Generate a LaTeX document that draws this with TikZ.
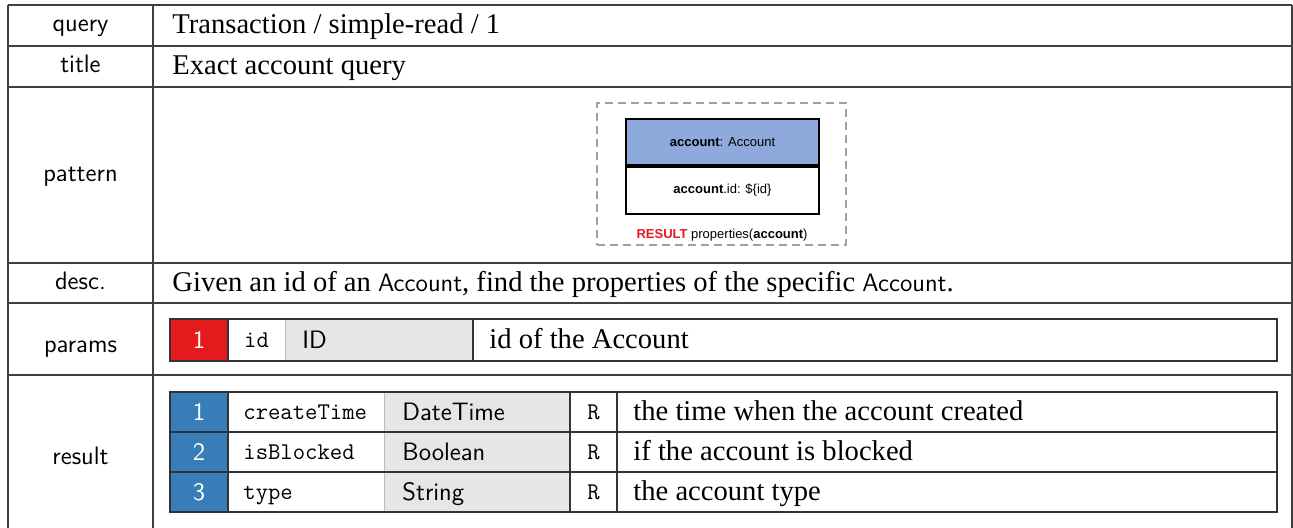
\documentclass[tikz,border=0pt]{standalone}
\usepackage{fontspec}
\setmainfont{Liberation Serif}
\newfontfamily\arialf{Liberation Sans}
\definecolor{setred}{HTML}{E41A1C}
\definecolor{setblue}{HTML}{377EB8}
\definecolor{hdrblue}{HTML}{8EA9DB}
\definecolor{typegray}{HTML}{E6E6E6}
\definecolor{gridc}{HTML}{404040}
\definecolor{tabc}{HTML}{333333}
\definecolor{lightc}{HTML}{BBBBBB}
\definecolor{dashc}{HTML}{A0A0A0}
\begin{document}
\begin{tikzpicture}[x=0.5pt,y=-0.5pt,
  outer/.style={draw=gridc, line width=0.8pt},
  tabline/.style={draw=tabc, line width=0.75pt},
  lightline/.style={draw=lightc, line width=0.5pt},
  lbl/.style={font=\sffamily\fontsize{12.6}{15}\selectfont, inner sep=0pt, text height=9pt, text depth=3pt},
  txt/.style={font=\fontsize{14.3}{17}\selectfont, anchor=west, inner sep=0pt, text height=11pt, text depth=3pt},
  sftxt/.style={font=\sffamily\fontsize{12.6}{15}\selectfont, anchor=west, inner sep=0pt, text height=11pt, text depth=3pt},
  mono/.style={font=\ttfamily\fontsize{12}{14}\selectfont, anchor=west, inner sep=0pt, text height=10pt, text depth=3pt},
  numcell/.style={font=\sffamily\fontsize{12.6}{15}\selectfont, text=white, inner sep=0pt, outer sep=0pt, minimum width=29pt, minimum height=#1, text height=11pt, text depth=3pt},
  cell/.style={inner sep=0pt, outer sep=0pt, minimum height=#1},
  pat/.style={font=\arialf\fontsize{6.5}{8}\selectfont, inner sep=0pt}
]
\useasboundingbox (0,0) rectangle (1293,527);
\clip (0,0) rectangle (1293,527);
\fill[white] (0,0) rectangle (1293,527);

% outer table grid
\draw[outer] (8,5) -- (1292,5);
\foreach \yy in {46,87,263,303,375} \draw[outer] (8,\yy) -- (1292,\yy);
\draw[outer] (8,5) -- (8,560);
\draw[outer] (153,5) -- (153,560);
\draw[outer] (1292,5) -- (1292,560);

% labels
\node[lbl] (lquery) at (80.5,25.5) {query};
\node[lbl] (ltitle) at (80.5,66.5) {title};
\node[lbl] (lpattern) at (80.5,175) {pattern};
\node[lbl] (ldesc) at (80.5,283) {desc.};
\node[lbl] (lparams) at (80.5,346) {params};
\node[lbl] (lresult) at (80.5,458) {result};

% values
\node[txt] (vquery) at (172,25.5) {Transaction / simple-read / 1};
\node[txt] (vtitle) at (172,66.5) {Exact account query};
\node[txt] (vdesc) at (172,283) {Given an id of an {\sffamily\fontsize{12.6}{15}\selectfont Account}, find the properties of the specific {\sffamily\fontsize{12.6}{15}\selectfont Account}.};

% pattern
\node[draw=dashc, line width=0.75pt, dash pattern=on 4pt off 2.5pt, minimum width=124.5pt, minimum height=71pt, inner sep=0pt] (pbox) at (721.5,174) {};
\node[pat, fill=hdrblue, draw=black, line width=1pt, minimum width=96.5pt, minimum height=23pt] (hdr) at (722.5,142) {\textbf{account}: Account};
\node[pat, draw=black, line width=1pt, minimum width=96.5pt, minimum height=23.5pt, anchor=north] (prop) at (hdr.south) {\textbf{account}.id: \$\{id\}};
\node[pat] (res) at (722,235) {\textcolor{setred}{\textbf{RESULT}} properties(\textbf{account})};

% params table
\node[numcell=21pt, fill=setred] (p1) at (199,340) {1};
\node[cell=21pt, minimum width=28.5pt, anchor=west] (pid) at (p1.east) {};
\node[cell=21pt, minimum width=94pt, fill=typegray, anchor=west] (ptype) at (pid.east) {};
\node[cell=21pt, minimum width=402pt, anchor=west] (pdesc) at (ptype.east) {};
\node[mono, anchor=center] (pidt) at (pid.center) {id};
\node[sftxt] (ptypet) at ([xshift=8.5pt]ptype.west) {ID};
\node[txt] (pdesct) at ([xshift=8pt]pdesc.west) {id of the Account};
\draw[lightline] (ptype.north west) -- (ptype.south west);
\draw[tabline] (p1.north east) -- (p1.south east);
\draw[tabline] (ptype.north east) -- (ptype.south east);
\draw[tabline] (p1.north west) rectangle (pdesc.south east);

% result table
\foreach \i/\nm/\ty/\ds in {1/createTime/DateTime/the time when the account created,
                             2/isBlocked/Boolean/if the account is blocked,
                             3/type/String/the account type}{
  \pgfmathsetmacro\yy{372+40*\i}
  \node[numcell=20pt, fill=setblue] (rn\i) at (199,\yy) {\i};
  \node[cell=20pt, minimum width=78pt, anchor=west] (rname\i) at (rn\i.east) {};
  \node[cell=20pt, minimum width=93pt, fill=typegray, anchor=west] (rtype\i) at (rname\i.east) {};
  \node[cell=20pt, minimum width=23.5pt, anchor=west] (rflag\i) at (rtype\i.east) {};
  \node[cell=20pt, minimum width=330pt, anchor=west] (rdesc\i) at (rflag\i.east) {};
  \node[mono] (rnamet\i) at ([xshift=7.5pt]rname\i.west) {\nm};
  \node[sftxt] (rtypet\i) at ([xshift=9pt]rtype\i.west) {\ty};
  \node[mono, anchor=center] (rflagt\i) at (rflag\i.center) {R};
  \node[txt] (rdesct\i) at ([xshift=8pt]rdesc\i.west) {\ds};
  \draw[lightline] (rtype\i.north west) -- (rtype\i.south west);
  \draw[tabline] (rn\i.north east) -- (rn\i.south east);
  \draw[tabline] (rtype\i.north east) -- (rtype\i.south east);
  \draw[tabline] (rflag\i.north east) -- (rflag\i.south east);
}
\draw[tabline] (rn1.south west) -- (rdesc1.south east);
\draw[tabline] (rn2.south west) -- (rdesc2.south east);
\draw[tabline] (rn1.north west) rectangle (rdesc3.south east);
\end{tikzpicture}
\end{document}
